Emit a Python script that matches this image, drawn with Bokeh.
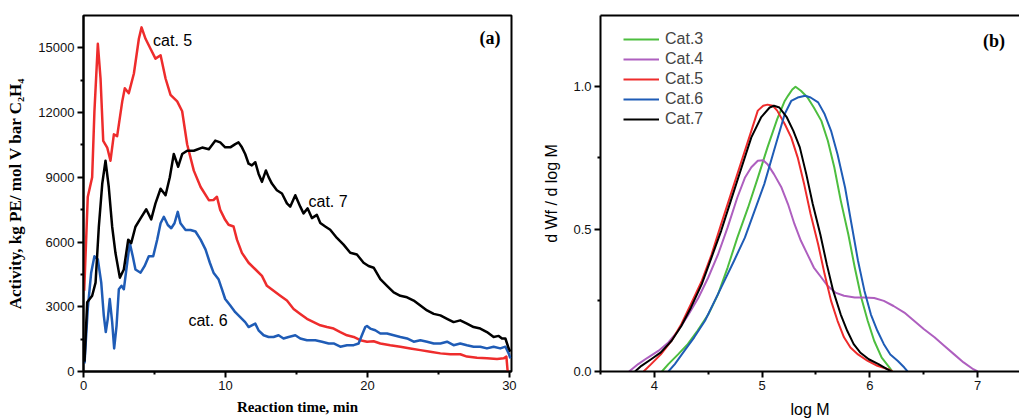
from bokeh.plotting import figure
from bokeh.layouts import row
from bokeh.models import FixedTicker, Label, Legend, LegendItem, LinearAxis, Range1d, PrintfTickFormatter
from bokeh.embed import file_html
from bokeh.resources import INLINE

# ---------------- Panel (a): activity vs reaction time ----------------
t_cat5 = [0.05, 0.30, 0.61, 0.77, 1.01, 1.20, 1.39, 1.67, 1.90, 2.14, 2.37, 2.73, 2.91, 3.19,
          3.55, 3.90, 4.09, 4.37, 4.72, 5.07, 5.43, 5.78, 6.13, 6.60, 6.95, 7.30, 7.77, 8.25,
          8.83, 9.16, 9.40, 9.63, 9.98, 10.22, 10.57, 10.81, 11.16, 11.63, 12.10, 12.57, 12.92,
          13.39, 13.86, 14.33, 14.80, 15.27, 15.74, 16.21, 16.68, 17.15, 17.62, 18.09, 18.56,
          19.03, 19.50, 19.97, 20.44, 20.91, 21.61, 22.32, 23.02, 23.73, 24.43, 25.14, 25.84,
          26.54, 27.01, 27.72, 28.42, 29.13, 29.60, 29.79, 29.88]
a_cat5 = [3740, 8090, 9000, 12060, 15190, 13580, 10690, 10380, 9770, 10990, 10910, 12520, 13130, 12900,
          13810, 15420, 15950, 15420, 14960, 14500, 14660, 13580, 12820, 12520, 12060, 10530, 9310, 8550,
          7940, 7950, 8100, 7490, 7030, 6800, 6720, 6110, 5500, 5040, 4740, 4430, 3970,
          3740, 3510, 3290, 2900, 2670, 2440, 2290, 2140, 2060, 1990, 1830, 1680,
          1600, 1450, 1380, 1400, 1300, 1220, 1150, 1070, 990, 920, 840, 800,
          800, 690, 640, 610, 580, 610, 690, 0]

t_cat6 = [0.07, 0.30, 0.54, 0.77, 1.01, 1.25, 1.43, 1.57, 1.71, 1.85, 2.02, 2.16, 2.33, 2.49, 2.68,
          2.84, 3.08, 3.26, 3.47, 3.66, 4.02, 4.30, 4.60, 4.91, 5.19, 5.43, 5.66, 5.94, 6.18, 6.41,
          6.64, 6.83, 7.19, 7.54, 7.89, 8.25, 8.60, 8.90, 9.16, 9.51, 9.75, 9.98, 10.34, 10.69,
          11.04, 11.39, 11.63, 11.86, 12.10, 12.33, 12.69, 13.04, 13.39, 13.74, 14.09, 14.45,
          14.92, 15.27, 15.74, 16.33, 16.80, 17.27, 17.62, 18.09, 18.56, 19.03, 19.38, 19.61,
          19.85, 19.97, 20.20, 20.55, 20.91, 21.38, 21.85, 22.32, 22.79, 23.26, 23.73, 24.20,
          24.67, 25.14, 25.61, 26.07, 26.54, 27.01, 27.48, 27.95, 28.42, 28.89, 29.36, 29.72,
          29.95, 30.07]
a_cat6 = [380, 2900, 4580, 5340, 5190, 4120, 2590, 1830, 2440, 3360, 2290, 1070, 2130, 3810, 3970,
          3810, 5040, 5950, 5340, 4730, 4580, 4880, 5340, 5340, 6110, 6870, 7170, 6790, 6640, 6870,
          7400, 6870, 6560, 6560, 6490, 6110, 5650, 5040, 4580, 4280, 3820, 3360, 3060, 2750,
          2520, 2290, 2060, 2140, 2220, 1910, 1680, 1600, 1600, 1680, 1530, 1600,
          1680, 1530, 1450, 1450, 1380, 1300, 1300, 1150, 1220, 1220, 1300, 1680,
          2060, 2110, 1990, 1910, 1760, 1760, 1680, 1600, 1530, 1380, 1450, 1380,
          1300, 1300, 1380, 1220, 1300, 1220, 1150, 1150, 1070, 1150, 1070, 1150,
          840, 610]

t_cat7 = [0.07, 0.26, 0.61, 0.85, 1.08, 1.32, 1.55, 1.78, 2.02, 2.25, 2.56, 2.84, 3.15, 3.36, 3.66,
          4.02, 4.42, 4.77, 5.07, 5.43, 5.78, 6.08, 6.36, 6.67, 6.95, 7.30, 7.77, 8.36, 8.83, 9.28,
          9.63, 9.98, 10.34, 10.69, 10.92, 11.16, 11.39, 11.63, 11.86, 12.10, 12.33, 12.57, 12.85,
          13.04, 13.27, 13.62, 13.98, 14.33, 14.56, 14.92, 15.27, 15.50, 15.79, 16.09, 16.44,
          16.68, 17.03, 17.38, 17.85, 18.32, 18.79, 19.26, 19.73, 20.08, 20.44, 20.91, 21.38,
          21.85, 22.32, 22.79, 23.26, 23.73, 24.20, 24.67, 25.14, 25.61, 26.07, 26.54, 27.01,
          27.48, 27.95, 28.42, 28.89, 29.25, 29.48, 29.72, 29.95, 30.07]
a_cat7 = [460, 3210, 3510, 4120, 6710, 8700, 9770, 8550, 6710, 5500, 4350, 4730, 6110, 5950, 6710,
          7100, 7520, 7050, 7790, 8470, 8170, 9000, 10080, 9490, 10080, 10230, 10230, 10380, 10300, 10700,
          10620, 10390, 10390, 10540, 10620, 10390, 10080, 9630, 9550, 9700, 9170, 8790, 9320,
          9010, 8710, 8400, 8250, 7790, 7640, 8170, 7640, 7330, 7560, 7110, 7260,
          6880, 6720, 6570, 6190, 5880, 5500, 5420, 5040, 4890, 4810, 4280, 3970,
          3670, 3510, 3440, 3290, 3060, 2830, 2670, 2600, 2440, 2290, 2370, 2220,
          2060, 1990, 1830, 1600, 1650, 1530, 1530, 1070, 920]

time_ticks = [0, 10, 20, 30]
time_minor = [5, 15, 25]
act_ticks = [0, 3000, 6000, 9000, 12000, 15000]
act_minor = [1500, 4500, 7500, 10500, 13500]

# ---------------- Panel (b): MWD curves ----------------
m_cat3 = [4.07, 4.13, 4.22, 4.31, 4.40, 4.50, 4.59, 4.68, 4.77, 4.87, 4.96, 5.05, 5.14, 5.21, 5.24,
          5.28, 5.31, 5.36, 5.42, 5.48, 5.55, 5.61, 5.67, 5.73, 5.80, 5.86, 5.92, 5.98, 6.04, 6.11,
          6.17, 6.21]
w_cat3 = [0.0, 0.026, 0.06, 0.096, 0.143, 0.20, 0.27, 0.365, 0.47, 0.576, 0.68, 0.787, 0.886, 0.95, 0.968,
          0.99, 1.0, 0.986, 0.963, 0.927, 0.88, 0.81, 0.717, 0.60, 0.482, 0.365, 0.26, 0.178, 0.108, 0.049,
          0.02, 0.0]

m_cat4 = [3.765, 3.85, 3.94, 4.04, 4.13, 4.22, 4.31, 4.41, 4.50, 4.59, 4.68, 4.77, 4.84, 4.90, 4.96,
          5.01, 5.05, 5.11, 5.18, 5.24, 5.30, 5.36, 5.42, 5.48, 5.55, 5.61, 5.68, 5.76, 5.86, 5.95,
          6.04, 6.13, 6.22, 6.32, 6.41, 6.50, 6.60, 6.69, 6.78, 6.87, 6.96, 7.0]
w_cat4 = [0.0, 0.026, 0.049, 0.073, 0.102, 0.143, 0.196, 0.26, 0.33, 0.41, 0.506, 0.611, 0.68, 0.717, 0.74,
          0.742, 0.728, 0.693, 0.646, 0.588, 0.518, 0.459, 0.412, 0.365, 0.33, 0.30, 0.277, 0.266, 0.26, 0.26,
          0.258, 0.248, 0.23, 0.207, 0.178, 0.149, 0.12, 0.09, 0.061, 0.032, 0.008, 0.0]

m_cat5 = [3.90, 3.97, 4.06, 4.16, 4.25, 4.34, 4.44, 4.53, 4.62, 4.71, 4.81, 4.90, 4.96, 5.01, 5.05,
          5.10, 5.14, 5.21, 5.27, 5.33, 5.39, 5.45, 5.52, 5.58, 5.64, 5.70, 5.76, 5.82, 5.89, 5.98,
          6.07, 6.17, 6.21]
w_cat5 = [0.0, 0.026, 0.06, 0.108, 0.166, 0.237, 0.318, 0.41, 0.518, 0.623, 0.74, 0.845, 0.916, 0.933, 0.937,
          0.933, 0.916, 0.869, 0.822, 0.752, 0.658, 0.553, 0.447, 0.342, 0.248, 0.178, 0.12, 0.084, 0.06, 0.037,
          0.02, 0.008, 0.0]

m_cat6 = [4.13, 4.19, 4.28, 4.37, 4.47, 4.56, 4.65, 4.74, 4.84, 4.93, 5.02, 5.11, 5.21, 5.27, 5.33,
          5.40, 5.45, 5.52, 5.58, 5.64, 5.70, 5.77, 5.83, 5.89, 5.95, 6.01, 6.07, 6.13, 6.19, 6.26,
          6.32, 6.35]
w_cat6 = [0.0, 0.026, 0.073, 0.12, 0.178, 0.248, 0.318, 0.389, 0.47, 0.564, 0.658, 0.775, 0.904, 0.95, 0.962,
          0.968, 0.962, 0.945, 0.904, 0.845, 0.763, 0.646, 0.517, 0.389, 0.283, 0.20, 0.143, 0.096, 0.06, 0.037,
          0.014, 0.0]

m_cat7 = [3.82, 3.88, 3.97, 4.06, 4.16, 4.25, 4.34, 4.44, 4.53, 4.62, 4.71, 4.81, 4.90, 4.99, 5.07,
          5.11, 5.16, 5.23, 5.29, 5.35, 5.41, 5.47, 5.54, 5.60, 5.66, 5.73, 5.79, 5.85, 5.91, 5.99,
          6.08, 6.16, 6.20]
w_cat7 = [0.0, 0.02, 0.043, 0.067, 0.108, 0.16, 0.225, 0.307, 0.40, 0.494, 0.60, 0.717, 0.822, 0.892, 0.927,
          0.933, 0.927, 0.892, 0.845, 0.787, 0.693, 0.588, 0.482, 0.377, 0.283, 0.20, 0.143, 0.096, 0.067, 0.043,
          0.026, 0.008, 0.0]

logm_ticks = [4, 5, 6, 7]
logm_minor = [3.5, 4.5, 5.5, 6.5]
w_ticks = [0.0, 0.5, 1.0]
w_minor = [0.25, 0.75]

RED = "#EE2C2C"
BLUE = "#1F5CB6"
GREEN = "#4DBE3F"
PURPLE = "#AE5FBF"
BLACK = "#000000"

SANS = "Liberation Sans"
SERIF = "Liberation Serif"


def style_axis(ax, ticks, minor, fmt_size):
    ax.ticker = FixedTicker(ticks=ticks, minor_ticks=minor)
    ax.axis_line_color = "black"
    ax.axis_line_width = 2
    ax.major_tick_line_color = "black"
    ax.major_tick_line_width = 2
    ax.minor_tick_line_color = "black"
    ax.minor_tick_line_width = 2
    ax.major_tick_in = 0
    ax.major_tick_out = 6
    ax.minor_tick_in = 0
    ax.minor_tick_out = 3
    ax.major_label_text_font = SANS
    ax.major_label_text_font_size = fmt_size
    ax.major_label_text_color = "#111111"
    ax.major_label_standoff = 3


H = 420

# ---- figure (a): frame x 83..511, y 13..373
p1 = figure(width=540, height=H, x_range=Range1d(0, 30.15), y_range=Range1d(0, 16500),
            output_backend="svg", toolbar_location=None,
            min_border_left=83, min_border_right=29, min_border_top=13, min_border_bottom=H - 13 - 360)
p1.grid.visible = False
p1.outline_line_color = "black"
p1.outline_line_width = 2
p1.background_fill_color = "white"
p1.border_fill_color = "white"

style_axis(p1.xaxis[0], time_ticks, time_minor, "13px")
style_axis(p1.yaxis[0], act_ticks, act_minor, "13px")
p1.xaxis[0].axis_label = "Reaction time, min"
p1.yaxis[0].axis_label = "Activity, kg PE/ mol V bar C\u2082H\u2084"
for ax, sz in ((p1.xaxis[0], "15px"), (p1.yaxis[0], "17px")):
    ax.axis_label_text_font = SERIF
    ax.axis_label_text_font_style = "bold"
    ax.axis_label_text_font_size = sz
    ax.axis_label_text_color = "black"
p1.xaxis[0].axis_label_standoff = 6
p1.yaxis[0].axis_label_standoff = 10

p1.line(t_cat5, a_cat5, line_color=RED, line_width=2.5, line_join="round")
p1.line(t_cat6, a_cat6, line_color=BLUE, line_width=2.5, line_join="round")
p1.line(t_cat7, a_cat7, line_color=BLACK, line_width=2.5, line_join="round")

for x, y, txt in ((4.9, 15360, "cat. 5"), (15.85, 7890, "cat. 7"), (7.39, 2350, "cat. 6")):
    p1.add_layout(Label(x=x, y=y, text=txt, text_font=SANS, text_font_size="16px",
                        text_baseline="middle", text_color="black"))
p1.add_layout(Label(x=27.9, y=15450, text="(a)", text_font=SERIF, text_font_style="bold",
                    text_font_size="18px", text_baseline="middle", text_color="black"))

# ---- figure (b): frame x 599..1019 (open on the right), y 15..371
p2 = figure(width=479, height=H, x_range=Range1d(3.5, 7.389), y_range=Range1d(0, 1.25),
            output_backend="svg", toolbar_location=None,
            min_border_left=59, min_border_right=0, min_border_top=15, min_border_bottom=H - 15 - 356)
p2.grid.visible = False
p2.outline_line_color = None
p2.background_fill_color = "white"
p2.border_fill_color = "white"

style_axis(p2.xaxis[0], logm_ticks, logm_minor, "13px")
style_axis(p2.yaxis[0], w_ticks, w_minor, "13px")
p2.yaxis[0].formatter = PrintfTickFormatter(format="%.1f")
p2.xaxis[0].axis_label = "log M"
p2.yaxis[0].axis_label = "d Wf / d log M"
for ax in (p2.xaxis[0], p2.yaxis[0]):
    ax.axis_label_text_font = SANS
    ax.axis_label_text_font_style = "normal"
    ax.axis_label_text_font_size = "16px"
    ax.axis_label_text_color = "black"
p2.xaxis[0].axis_label_standoff = 8
p2.yaxis[0].axis_label_standoff = 10

top_axis = LinearAxis(ticker=FixedTicker(ticks=[]), axis_line_color="black", axis_line_width=2,
                      major_label_text_font_size="0px", major_tick_out=0, minor_tick_out=0)
p2.add_layout(top_axis, "above")

r3 = p2.line(m_cat3, w_cat3, line_color=GREEN, line_width=2, line_join="round")
r4 = p2.line(m_cat4, w_cat4, line_color=PURPLE, line_width=2, line_join="round")
r5 = p2.line(m_cat5, w_cat5, line_color=RED, line_width=2, line_join="round")
r6 = p2.line(m_cat6, w_cat6, line_color=BLUE, line_width=2, line_join="round")
r7 = p2.line(m_cat7, w_cat7, line_color=BLACK, line_width=2, line_join="round")

legend = Legend(items=[LegendItem(label="Cat.3", renderers=[r3]),
                       LegendItem(label="Cat.4", renderers=[r4]),
                       LegendItem(label="Cat.5", renderers=[r5]),
                       LegendItem(label="Cat.6", renderers=[r6]),
                       LegendItem(label="Cat.7", renderers=[r7])],
                location=(23, 242), padding=0, margin=0, spacing=0,
                glyph_width=36, glyph_height=20, label_height=20, label_standoff=6,
                label_text_font=SANS, label_text_font_size="16px",
                border_line_color=None, background_fill_alpha=0)
p2.add_layout(legend)

p2.add_layout(Label(x=7.05, y=1.16, text="(b)", text_font=SERIF, text_font_style="bold",
                    text_font_size="18px", text_baseline="middle", text_color="black"))

layout = row(p1, p2)
open("out.html", "w").write(file_html(layout, INLINE))
